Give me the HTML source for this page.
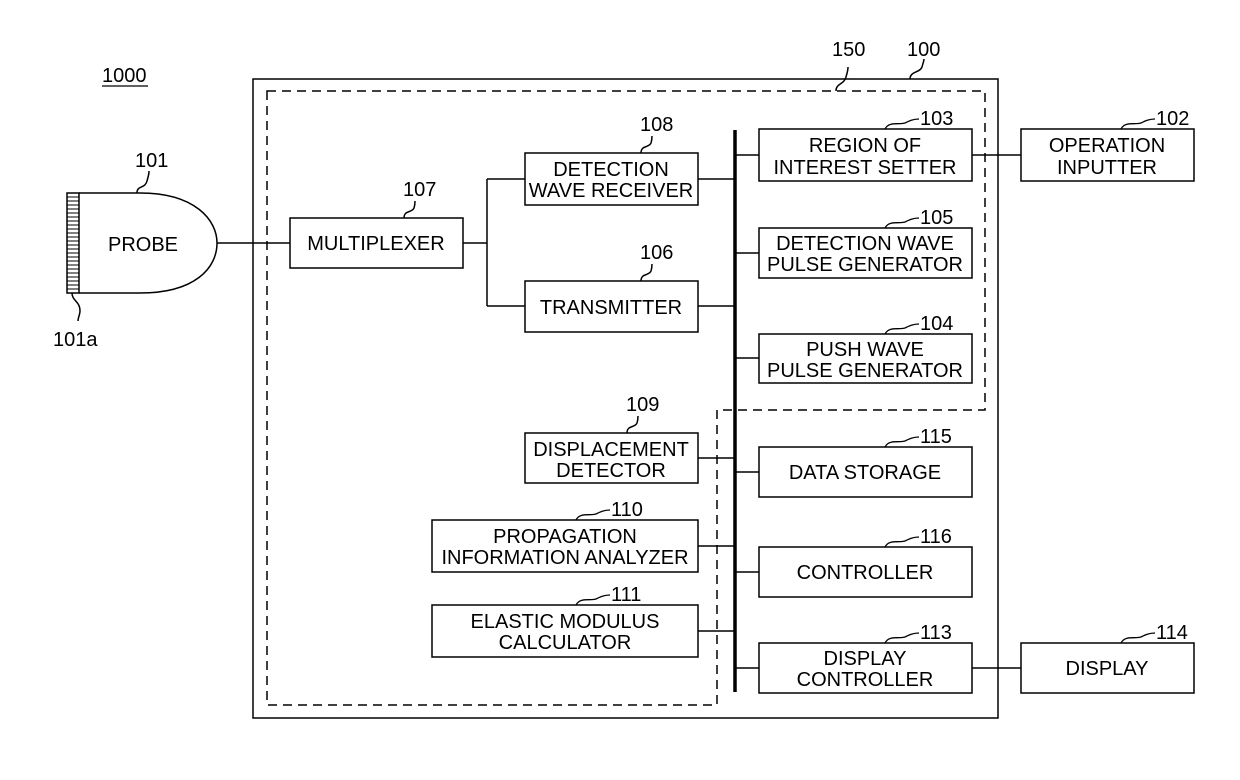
<!DOCTYPE html>
<html><head><style>
body{margin:0;background:#fff}
svg text{font-family:"Liberation Sans",sans-serif;font-size:20px;fill:#000}
</style></head><body>
<svg width="1240" height="775" viewBox="0 0 1240 775" xmlns="http://www.w3.org/2000/svg">
<g fill="none" stroke="#000" stroke-width="1.5">
<rect x="253" y="79" width="745" height="639"/>
<path d="M267 91 H985 V410 H717 V705 H267 Z" stroke-dasharray="9,6"/>
<line x1="735" y1="130" x2="735" y2="692" stroke-width="3.5"/>
<rect x="759" y="129" width="213" height="52"/>
<rect x="1021" y="129" width="173" height="52"/>
<rect x="759" y="228" width="213" height="50"/>
<rect x="759" y="334" width="213" height="49"/>
<rect x="759" y="447" width="213" height="50"/>
<rect x="759" y="547" width="213" height="50"/>
<rect x="759" y="643" width="213" height="50"/>
<rect x="1021" y="643" width="173" height="50"/>
<rect x="525" y="153" width="173" height="52"/>
<rect x="525" y="281" width="173" height="51"/>
<rect x="290" y="218" width="173" height="50"/>
<rect x="525" y="433" width="173" height="50"/>
<rect x="432" y="520" width="266" height="52"/>
<rect x="432" y="605" width="266" height="52"/>
<path d="M79 193 H140 C195 193 217 220 217 243 C217 268 195 293 140 293 H79"/>
<rect x="67" y="193" width="12" height="100"/>
<path d="M217 243 H290 M463 243 H487 M487 179 V306 M487 179 H525 M487 306 H525 M698 179 H735 M698 306 H735 M735 155 H759 M972 155 H1021 M735 253 H759 M735 358 H759 M735 472 H759 M735 572 H759 M735 668 H759 M972 668 H1021 M698 458 H735 M698 546 H735 M698 631 H735"/>
<path d="M137 193 c0-8 8-4 10-12 c1-4 2-6 2-10" />
<path d="M72 293 c0 8 8 8 8 18 c0 4-2 6-2 10"/>
<path d="M404 218 c0-8 8-5 10-10 c1-3 1-4 1-7"/>
<path d="M641 153 c0-8 8-5 10-10 c1-3 1-4 1-7"/>
<path d="M641 281 c0-8 8-5 10-10 c1-3 1-4 1-7"/>
<path d="M627 433 c0-8 8-5 10-10 c1-3 1-4 1-7"/>
<path d="M836 91 c0-8 8-6 10-14 c1-4 2-6 2-10"/>
<path d="M910 79 c0-8 10-6 12-12 c1-4 2-6 2-8"/>
</g>
<g fill="none" stroke="#000" stroke-width="1.3">
<path d="M885 129 c4-8 14-4 20-6 c4-2 8-4 14-4"/>
<path d="M1121 129 c4-8 14-4 20-6 c4-2 8-4 14-4"/>
<path d="M885 228 c4-8 14-4 20-6 c4-2 8-4 14-4"/>
<path d="M885 334 c4-8 14-4 20-6 c4-2 8-4 14-4"/>
<path d="M885 447 c4-8 14-4 20-6 c4-2 8-4 14-4"/>
<path d="M885 547 c4-8 14-4 20-6 c4-2 8-4 14-4"/>
<path d="M885 643 c4-8 14-4 20-6 c4-2 8-4 14-4"/>
<path d="M1121 643 c4-8 14-4 20-6 c4-2 8-4 14-4"/>
<path d="M576 520 c4-8 14-4 20-6 c4-2 8-4 14-4"/>
<path d="M576 605 c4-8 14-4 20-6 c4-2 8-4 14-4"/>
</g>
<text x="102" y="82">1000</text>
<line x1="102" y1="86" x2="148" y2="86" stroke="#000" stroke-width="1.3"/>
<text x="135" y="167">101</text>
<text x="53" y="346">101a</text>
<text x="108" y="251">PROBE</text>
<text x="403" y="196">107</text>
<text x="640" y="131">108</text>
<text x="640" y="259">106</text>
<text x="626" y="411">109</text>
<text x="832" y="56">150</text>
<text x="907" y="56">100</text>
<text x="920" y="125">103</text>
<text x="1156" y="125">102</text>
<text x="920" y="224">105</text>
<text x="920" y="330">104</text>
<text x="920" y="443">115</text>
<text x="920" y="543">116</text>
<text x="920" y="639">113</text>
<text x="1156" y="639">114</text>
<text x="611" y="516">110</text>
<text x="611" y="601">111</text>
<g text-anchor="middle">
<text x="376" y="250">MULTIPLEXER</text>
<text x="611" y="176">DETECTION</text><text x="611" y="197">WAVE RECEIVER</text>
<text x="611" y="314">TRANSMITTER</text>
<text x="611" y="456">DISPLACEMENT</text><text x="611" y="477">DETECTOR</text>
<text x="565" y="543">PROPAGATION</text><text x="565" y="564">INFORMATION ANALYZER</text>
<text x="565" y="628">ELASTIC MODULUS</text><text x="565" y="649">CALCULATOR</text>
<text x="865" y="152">REGION OF</text><text x="865" y="174">INTEREST SETTER</text>
<text x="1107" y="152">OPERATION</text><text x="1107" y="174">INPUTTER</text>
<text x="865" y="250">DETECTION WAVE</text><text x="865" y="271">PULSE GENERATOR</text>
<text x="865" y="356">PUSH WAVE</text><text x="865" y="377">PULSE GENERATOR</text>
<text x="865" y="479">DATA STORAGE</text>
<text x="865" y="579">CONTROLLER</text>
<text x="865" y="665">DISPLAY</text><text x="865" y="686">CONTROLLER</text>
<text x="1107" y="675">DISPLAY</text>
</g>
<g stroke="#000" stroke-width="1">
<path d="M67 197 H79 M67 201 H79 M67 205 H79 M67 209 H79 M67 213 H79 M67 217 H79 M67 221 H79 M67 225 H79 M67 229 H79 M67 233 H79 M67 237 H79 M67 241 H79 M67 245 H79 M67 249 H79 M67 253 H79 M67 257 H79 M67 261 H79 M67 265 H79 M67 269 H79 M67 273 H79 M67 277 H79 M67 281 H79 M67 285 H79 M67 289 H79"/>
</g>
</svg>
</body></html>
